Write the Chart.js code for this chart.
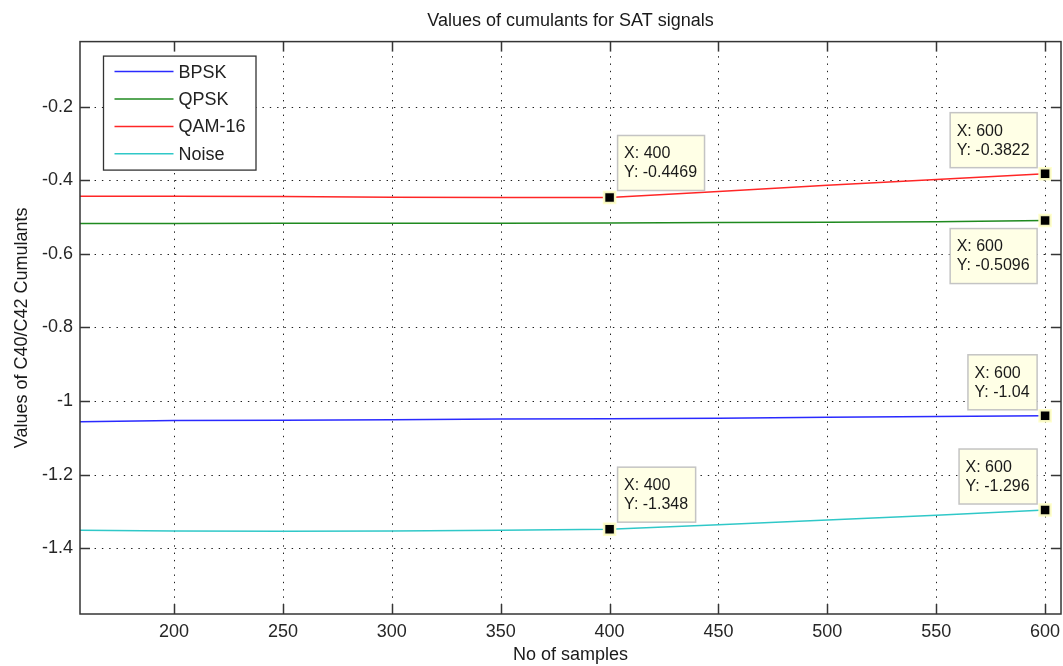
<!DOCTYPE html>
<html>
<head>
<meta charset="utf-8">
<title>Values of cumulants for SAT signals</title>
<script src="https://cdn.jsdelivr.net/npm/chart.js@4.4.1/dist/chart.umd.min.js"></script>
<style>
  html, body { margin: 0; padding: 0; background: #ffffff; }
  canvas { display: block; }
</style>
</head>
<body>
<canvas id="cumulants" width="1063" height="666"></canvas>
<script>
// Number of samples used for each cumulant estimate
const samples = [150, 200, 250, 300, 350, 400, 450, 500, 550, 600];

// C40/C42 cumulant values per modulation
const bpsk  = [-1.057, -1.053, -1.052, -1.051, -1.0485, -1.048, -1.0465, -1.044, -1.042, -1.04];
const qpsk  = [-0.5177, -0.5175, -0.5172, -0.517, -0.5167, -0.5163, -0.515, -0.5145, -0.5125, -0.5096];
const qam16 = [-0.4435, -0.4437, -0.4442, -0.4465, -0.4467, -0.4469, -0.4305, -0.414, -0.398, -0.3822];
const noise = [-1.3505, -1.353, -1.3535, -1.353, -1.351, -1.348, -1.336, -1.323, -1.3105, -1.296];

const seriesNames  = ['BPSK', 'QPSK', 'QAM-16', 'Noise'];
const seriesValues = [bpsk, qpsk, qam16, noise];

// Axis ticks
const xTicks = [200, 250, 300, 350, 400, 450, 500, 550, 600];
const yTicks = [-0.2, -0.4, -0.6, -0.8, -1, -1.2, -1.4];
const yTickLabels = ['-0.2', '-0.4', '-0.6', '-0.8', '-1', '-1.2', '-1.4'];

// Data tips: which series and which sample they mark
const tipSeries  = [2, 2, 1, 0, 3, 3];
const tipSamples = [400, 600, 600, 600, 600, 400];

// ---- presentation ----
const FONT = "'Liberation Sans', Arial, Helvetica, sans-serif";
const lineColors = ['#2a2aff', '#1f8a1f', '#ff2626', '#30c8c8'];
const tipSides = ['ne', 'nw', 'sw', 'nw', 'nw', 'ne'];

function valueAt(seriesIdx, sample) {
  return seriesValues[seriesIdx][samples.indexOf(sample)];
}
function fmt4(v) {
  return String(Number(v.toPrecision(4)));
}

const lineDatasets = seriesNames.map((name, i) => ({
  label: name,
  data: samples.map((s, k) => ({ x: s, y: seriesValues[i][k] })),
  borderColor: lineColors[i],
  backgroundColor: lineColors[i],
  borderWidth: 1.5,
  pointRadius: 0,
  tension: 0,
  fill: false,
  order: 1
}));

const tipDataset = {
  label: 'tips',
  data: tipSamples.map((s, k) => ({ x: s, y: valueAt(tipSeries[k], s) })),
  showLine: false,
  pointStyle: 'rect',
  pointRadius: 7.8,
  pointBorderWidth: 2.5,
  pointBackgroundColor: '#000000',
  pointBorderColor: 'rgba(255,255,200,0.95)',
  clip: false,
  order: 0
};

function strokeLine(ctx, x1, y1, x2, y2) {
  ctx.beginPath();
  ctx.moveTo(x1, y1);
  ctx.lineTo(x2, y2);
  ctx.stroke();
}

// Dotted grid behind the curves, box frame with inward ticks on top
const axesBox = {
  id: 'axesBox',
  beforeDatasetsDraw(chart) {
    const { ctx, chartArea: a, scales: { x, y } } = chart;
    ctx.save();
    ctx.strokeStyle = '#1e1e1e';
    ctx.lineWidth = 1;
    ctx.setLineDash([1.4, 5.9]);
    xTicks.forEach(v => {
      const px = Math.round(x.getPixelForValue(v)) + 0.5;
      strokeLine(ctx, px, a.top, px, a.bottom);
    });
    yTicks.forEach(v => {
      const py = Math.round(y.getPixelForValue(v)) + 0.5;
      strokeLine(ctx, a.left, py, a.right, py);
    });
    ctx.restore();
  },
  afterDatasetsDraw(chart) {
    const { ctx, chartArea: a, scales: { x, y } } = chart;
    const tick = 10;
    ctx.save();
    ctx.strokeStyle = '#353535';
    ctx.lineWidth = 1.5;
    ctx.setLineDash([]);
    ctx.strokeRect(a.left, a.top, a.right - a.left, a.bottom - a.top);
    xTicks.forEach(v => {
      const px = Math.round(x.getPixelForValue(v)) + 0.5;
      strokeLine(ctx, px, a.bottom, px, a.bottom - tick);
      strokeLine(ctx, px, a.top, px, a.top + tick);
    });
    yTicks.forEach(v => {
      const py = Math.round(y.getPixelForValue(v)) + 0.5;
      strokeLine(ctx, a.left, py, a.left + tick, py);
      strokeLine(ctx, a.right, py, a.right - tick, py);
    });
    ctx.restore();
  }
};

// Legend box inside the plot, top-left
const boxLegend = {
  id: 'boxLegend',
  afterDraw(chart) {
    const { ctx, chartArea: a } = chart;
    const left = a.left + 23.5, top = a.top + 14.5;
    const w = 152.5, h = 114;
    ctx.save();
    ctx.fillStyle = '#ffffff';
    ctx.fillRect(left, top, w, h);
    ctx.strokeStyle = '#333333';
    ctx.lineWidth = 1.3;
    ctx.strokeRect(left, top, w, h);
    ctx.font = '18px ' + FONT;
    ctx.textBaseline = 'middle';
    ctx.textAlign = 'left';
    chart.data.datasets.slice(0, seriesNames.length).forEach((ds, i) => {
      const ry = top + 15.5 + i * 27.4;
      ctx.strokeStyle = ds.borderColor;
      ctx.lineWidth = 1.5;
      strokeLine(ctx, left + 11, ry, left + 70, ry);
      ctx.fillStyle = '#222222';
      ctx.fillText(ds.label, left + 75, ry + 1);
    });
    ctx.restore();
  }
};

// Data tip boxes next to the marked points
const dataTips = {
  id: 'dataTips',
  afterDraw(chart) {
    const { ctx, scales: { x, y } } = chart;
    ctx.save();
    ctx.font = '16px ' + FONT;
    ctx.textBaseline = 'middle';
    ctx.textAlign = 'left';
    tipSamples.forEach((s, k) => {
      const v = valueAt(tipSeries[k], s);
      const mx = x.getPixelForValue(s);
      const my = y.getPixelForValue(v);
      const l1 = 'X: ' + s;
      const l2 = 'Y: ' + fmt4(v);
      const bw = Math.max(ctx.measureText(l1).width, ctx.measureText(l2).width) + 14;
      const bh = 55;
      let bx, by;
      const side = tipSides[k];
      if (side === 'ne') { bx = mx + 8; by = my - 7 - bh; }
      else if (side === 'nw') { bx = mx - 8 - bw; by = my - 6 - bh; }
      else { bx = mx - 8 - bw; by = my + 8; }
      ctx.fillStyle = '#ffffe6';
      ctx.fillRect(bx, by, bw, bh);
      ctx.strokeStyle = '#c4c4c4';
      ctx.lineWidth = 1.5;
      ctx.strokeRect(bx, by, bw, bh);
      ctx.fillStyle = '#1a1a1a';
      ctx.fillText(l1, bx + 6.5, by + 18.5);
      ctx.fillText(l2, bx + 6.5, by + 37.5);
    });
    ctx.restore();
  }
};

new Chart(document.getElementById('cumulants'), {
  type: 'line',
  data: { datasets: [...lineDatasets, tipDataset] },
  options: {
    responsive: false,
    animation: false,
    events: [],
    layout: { autoPadding: false, padding: { left: 0, right: 2, top: 0, bottom: 0 } },
    plugins: {
      legend: { display: false },
      tooltip: { enabled: false },
      title: {
        display: true,
        text: 'Values of cumulants for SAT signals',
        fullSize: false,
        color: '#1a1a1a',
        font: { family: FONT, size: 18, weight: 'normal' },
        padding: { top: 10, bottom: 10 }
      }
    },
    scales: {
      x: {
        type: 'linear',
        min: 156.8,
        max: 607.3,
        afterBuildTicks(scale) { scale.ticks = xTicks.map(v => ({ value: v })); },
        afterFit(scale) {
          scale.height = 52;
          scale.paddingLeft = 0;
          scale.paddingRight = 0;
        },
        grid: { display: false, drawTicks: false },
        border: { display: false },
        ticks: {
          color: '#262626',
          padding: 7,
          maxRotation: 0,
          autoSkip: false,
          font: { family: FONT, size: 18 },
          callback: v => String(v)
        },
        title: {
          display: true,
          text: 'No of samples',
          color: '#1a1a1a',
          font: { family: FONT, size: 18 },
          padding: { top: 0, bottom: 0 }
        }
      },
      y: {
        type: 'linear',
        min: -1.5785,
        max: -0.0234,
        afterBuildTicks(scale) { scale.ticks = yTicks.map(v => ({ value: v })); },
        afterFit(scale) {
          scale.width = 80;
          scale.paddingTop = 0;
          scale.paddingBottom = 0;
        },
        grid: { display: false, drawTicks: false },
        border: { display: false },
        ticks: {
          color: '#262626',
          padding: 7,
          autoSkip: false,
          font: { family: FONT, size: 18 },
          callback: v => yTickLabels[yTicks.indexOf(v)]
        },
        title: {
          display: true,
          text: 'Values of C40/C42 Cumulants',
          color: '#1a1a1a',
          font: { family: FONT, size: 18 },
          padding: { top: 11, bottom: 0 }
        }
      }
    }
  },
  plugins: [axesBox, boxLegend, dataTips]
});
</script>
</body>
</html>
